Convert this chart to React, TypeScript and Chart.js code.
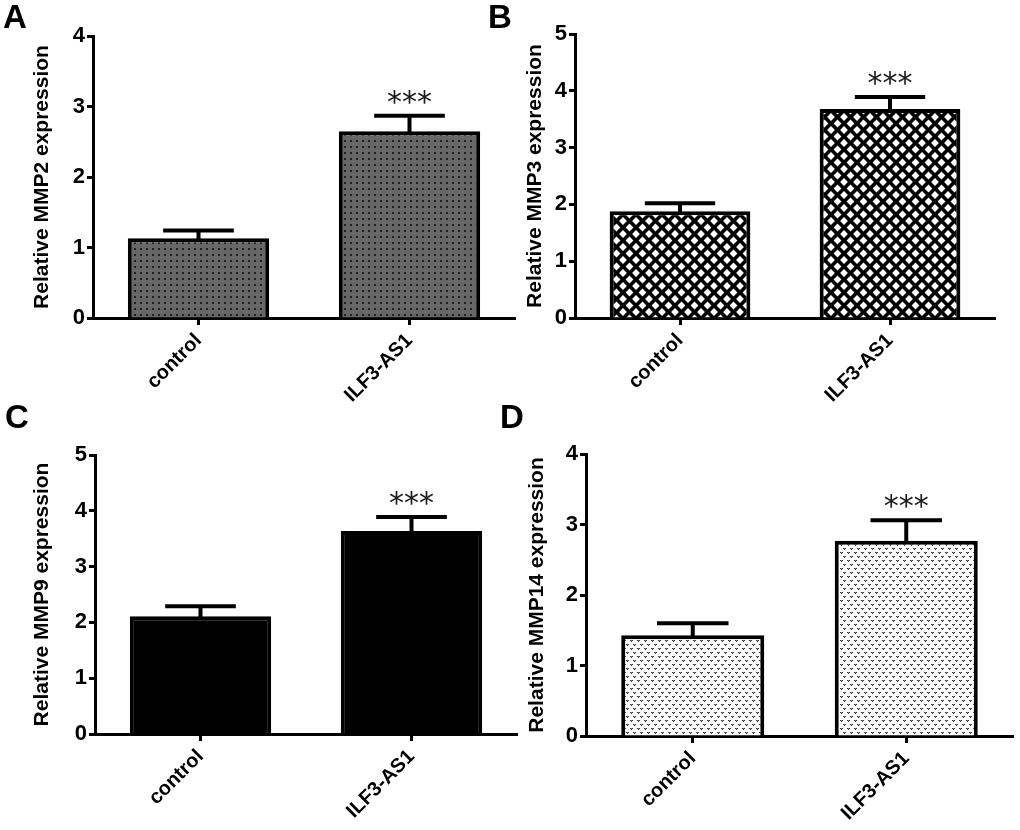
import React, { useEffect, useRef } from "react";
import { Chart, registerables } from "chart.js";

Chart.register(...registerables);

// ---------------- data ----------------
const categories = ["control", "ILF3-AS1"];
const significance = ["", "***"];

const mmp2Values = [1.13, 2.65];
const mmp2Errors = [0.11, 0.22];
const mmp3Values = [1.88, 3.68];
const mmp3Errors = [0.14, 0.21];
const mmp9Values = [2.11, 3.64];
const mmp9Errors = [0.18, 0.25];
const mmp14Values = [1.43, 2.77];
const mmp14Errors = [0.17, 0.29];

const yMaxA = 4;
const yMaxB = 5;
const yMaxC = 5;
const yMaxD = 4;

const panelLetters = ["A", "B", "C", "D"];
const yTitles = [
  "Relative MMP2 expression",
  "Relative MMP3 expression",
  "Relative MMP9 expression",
  "Relative MMP14 expression",
];

// ---------------- styling ----------------
const FONT = "'Liberation Sans', Arial, Helvetica, sans-serif";

type PatternKind = "dots" | "crosshatch" | "solid" | "stipple";

function makePattern(kind: PatternKind): CanvasPattern | string {
  if (kind === "solid") return "#000000";
  const c = document.createElement("canvas");
  const ctx = c.getContext("2d")!;
  if (kind === "dots") {
    c.width = 6;
    c.height = 6;
    ctx.fillStyle = "#676767";
    ctx.fillRect(0, 0, 6, 6);
    ctx.fillStyle = "#202020";
    ctx.fillRect(2, 2, 2, 2);
  } else if (kind === "crosshatch") {
    const s = 13;
    c.width = s;
    c.height = s;
    ctx.fillStyle = "#000";
    ctx.fillRect(0, 0, s, s);
    ctx.fillStyle = "#fff";
    const r = 3.9;
    const centers = [
      [0, 0],
      [s, 0],
      [0, s],
      [s, s],
      [s / 2, s / 2],
    ];
    for (const [cx, cy] of centers) {
      ctx.beginPath();
      ctx.moveTo(cx, cy - r);
      ctx.lineTo(cx + r, cy);
      ctx.lineTo(cx, cy + r);
      ctx.lineTo(cx - r, cy);
      ctx.closePath();
      ctx.fill();
    }
  } else {
    c.width = 7;
    c.height = 8;
    ctx.fillStyle = "#ffffff";
    ctx.fillRect(0, 0, 7, 8);
    ctx.fillStyle = "#333333";
    const marks = [
      [0, 1],
      [3, 5],
    ];
    for (const [mx, my] of marks) {
      ctx.fillRect(mx, my, 1, 1);
      ctx.fillRect(mx + 2, my, 1, 1);
      ctx.fillRect(mx + 1, my + 1, 1, 1);
    }
    ctx.fillStyle = "#808080";
    for (const [mx, my] of marks) {
      ctx.fillRect(mx + 1, my, 1, 1);
    }
  }
  return ctx.createPattern(c, "repeat")!;
}

const errorBarPlugin = {
  id: "errorBars",
  afterDatasetsDraw(chart: any, _args: any, opts: any) {
    const { ctx } = chart;
    const meta = chart.getDatasetMeta(0);
    const yScale = chart.scales.y;
    const values: number[] = chart.data.datasets[0].data;
    const errors: number[] = opts.errors || [];
    const sig: string[] = opts.sig || [];
    meta.data.forEach((bar: any, i: number) => {
      const p = bar.getProps(["x", "y", "width"], true);
      const capY = yScale.getPixelForValue(values[i] + errors[i]);
      const half = p.width / 4;
      ctx.save();
      ctx.strokeStyle = "#000";
      ctx.lineWidth = 4;
      ctx.lineCap = "butt";
      ctx.beginPath();
      ctx.moveTo(p.x, p.y + 2);
      ctx.lineTo(p.x, capY);
      ctx.moveTo(p.x - half, capY);
      ctx.lineTo(p.x + half, capY);
      ctx.stroke();
      if (sig[i]) {
        ctx.fillStyle = "#1a1a1a";
        ctx.font = "30px 'DejaVu Sans', sans-serif";
        ctx.textAlign = "center";
        ctx.textBaseline = "alphabetic";
        ctx.fillText(sig[i], p.x, capY - 4);
      }
      ctx.restore();
    });
  },
};

interface PanelSpec {
  letter: string;
  title: string;
  values: number[];
  errors: number[];
  yMax: number;
  pattern: PatternKind;
  canvas: { left: number; top: number; w: number; h: number };
  area: { left: number; top: number; right: number; bottom: number };
  titleCenterX: number;
  letterPos: { left: number; top: number };
}

const panels: PanelSpec[] = [
  {
    letter: panelLetters[0],
    title: yTitles[0],
    values: mmp2Values,
    errors: mmp2Errors,
    yMax: yMaxA,
    pattern: "dots",
    canvas: { left: 0, top: 0, w: 525, h: 415 },
    area: { left: 93, top: 36, right: 515, bottom: 318 },
    titleCenterX: 42,
    letterPos: { left: 3, top: 0 },
  },
  {
    letter: panelLetters[1],
    title: yTitles[1],
    values: mmp3Values,
    errors: mmp3Errors,
    yMax: yMaxB,
    pattern: "crosshatch",
    canvas: { left: 480, top: 0, w: 530, h: 415 },
    area: { left: 575, top: 34, right: 995, bottom: 318 },
    titleCenterX: 535,
    letterPos: { left: 488, top: 0 },
  },
  {
    letter: panelLetters[2],
    title: yTitles[2],
    values: mmp9Values,
    errors: mmp9Errors,
    yMax: yMaxC,
    pattern: "solid",
    canvas: { left: 0, top: 415, w: 525, h: 415 },
    area: { left: 95, top: 455, right: 517, bottom: 734 },
    titleCenterX: 42,
    letterPos: { left: 5, top: 400 },
  },
  {
    letter: panelLetters[3],
    title: yTitles[3],
    values: mmp14Values,
    errors: mmp14Errors,
    yMax: yMaxD,
    pattern: "stipple",
    canvas: { left: 490, top: 415, w: 530, h: 415 },
    area: { left: 586, top: 454, right: 1013, bottom: 736 },
    titleCenterX: 537,
    letterPos: { left: 500, top: 400 },
  },
];

const X_SCALE_HEIGHT = 93;
const TITLE_SIZE = 21;
const X_TICK_SIZE = 20;
const Y_TICK_SIZE = 22;

function Panel({ spec }: { spec: PanelSpec }) {
  const ref = useRef<HTMLCanvasElement | null>(null);
  useEffect(() => {
    const canvas = ref.current!;
    const { canvas: cv, area } = spec;
    const padLeft = 0;
    const yWidth = area.left - cv.left - padLeft;
    const padTop = area.top - cv.top;
    const padRight = cv.left + cv.w - area.right;
    const padBottom = Math.max(0, cv.top + cv.h - area.bottom - X_SCALE_HEIGHT);
    const titleLine = TITLE_SIZE * 1.2;
    const titlePadTop = spec.titleCenterX - cv.left - padLeft - titleLine / 2;

    const chart = new Chart(canvas, {
      type: "bar",
      data: {
        labels: categories,
        datasets: [
          {
            data: spec.values,
            backgroundColor: makePattern(spec.pattern) as any,
            borderColor: "#000",
            borderWidth: 4,
            borderSkipped: "start",
            barPercentage: 0.67,
            categoryPercentage: 1,
          },
        ],
      },
      options: {
        animation: false,
        responsive: false,
        events: [],
        layout: {
          padding: { left: padLeft, top: padTop, right: padRight, bottom: padBottom },
        },
        plugins: {
          legend: { display: false },
          tooltip: { enabled: false },
          title: { display: false },
          errorBars: { errors: spec.errors, sig: significance },
        } as any,
        scales: {
          x: {
            type: "category",
            offset: true,
            afterFit: (scale: any) => {
              scale.height = X_SCALE_HEIGHT;
            },
            border: { display: true, color: "#000", width: 3 },
            grid: {
              display: true,
              offset: false,
              drawOnChartArea: false,
              drawTicks: true,
              tickLength: 7,
              tickWidth: 3,
              tickColor: "#000",
              color: "#000",
            },
            ticks: {
              autoSkip: false,
              minRotation: 45,
              maxRotation: 45,
              padding: 4,
              color: "#000",
              font: { family: FONT, size: X_TICK_SIZE, weight: "bold" },
            },
          },
          y: {
            type: "linear",
            min: 0,
            max: spec.yMax,
            afterFit: (scale: any) => {
              scale.width = yWidth;
            },
            border: { display: true, color: "#000", width: 3 },
            grid: {
              display: true,
              drawOnChartArea: false,
              drawTicks: true,
              tickLength: 6,
              tickWidth: 3,
              tickColor: "#000",
              color: "#000",
            },
            ticks: {
              stepSize: 1,
              padding: 2,
              color: "#000",
              font: { family: FONT, size: Y_TICK_SIZE, weight: "bold" },
            },
            title: {
              display: true,
              text: spec.title,
              color: "#000",
              padding: { top: titlePadTop, bottom: 0 },
              font: { family: FONT, size: TITLE_SIZE, weight: "bold", lineHeight: 1.2 },
            },
          },
        },
      },
      plugins: [errorBarPlugin as any],
    });
    return () => chart.destroy();
  }, [spec]);

  return (
    <>
      <canvas
        ref={ref}
        width={spec.canvas.w}
        height={spec.canvas.h}
        style={{
          position: "absolute",
          left: spec.canvas.left,
          top: spec.canvas.top,
          width: spec.canvas.w,
          height: spec.canvas.h,
        }}
      />
      <div
        style={{
          position: "absolute",
          left: spec.letterPos.left,
          top: spec.letterPos.top,
          fontFamily: FONT,
          fontWeight: "bold",
          fontSize: 33,
          lineHeight: "33px",
          color: "#000",
        }}
      >
        {spec.letter}
      </div>
    </>
  );
}

export default function App() {
  return (
    <div
      style={{
        position: "absolute",
        left: 0,
        top: 0,
        width: 1020,
        height: 830,
        background: "#fff",
        overflow: "hidden",
      }}
    >
      {panels.map((p) => (
        <Panel key={p.letter} spec={p} />
      ))}
    </div>
  );
}
